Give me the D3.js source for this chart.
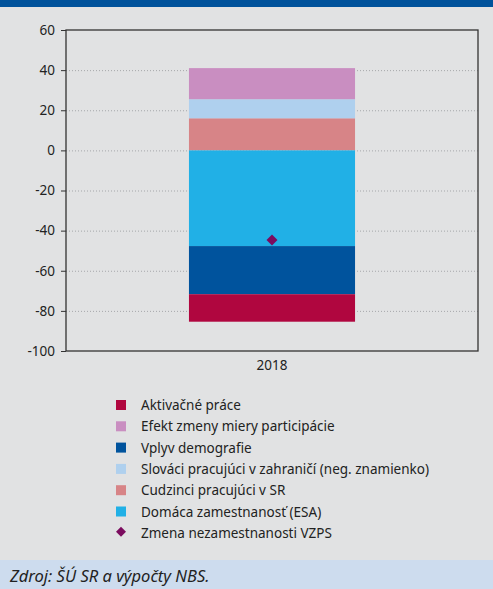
<!DOCTYPE html>
<html>
<head>
<meta charset="utf-8">
<script src="https://cdn.jsdelivr.net/npm/d3@7"></script>
<style>
body { margin: 0; background: #e1e2e3; }
svg { display: block; font-family: "Noto Sans", sans-serif; }
</style>
</head>
<body>
<svg></svg>
<script>
var width = 493;
var height = 589;

// data
var categories = ["2018"];
var seriesNames = [
  "Aktivačné práce",
  "Efekt zmeny miery participácie",
  "Vplyv demografie",
  "Slováci pracujúci v zahraničí (neg. znamienko)",
  "Cudzinci pracujúci v SR",
  "Domáca zamestnanosť (ESA)"
];
var seriesColors = ["#b0063f", "#c98ec1", "#00539d", "#afd0ee", "#d78487", "#21b0e6"];
var seriesValues = [-13.7, 15.5, -24.0, 9.5, 16.0, -47.7];
// stacking order from zero outwards
var stackOrder = [4, 3, 1, 5, 2, 0];
var markerName = "Zmena nezamestnanosti VZPS";
var markerValues = [-44.7];
var yTicks = [60, 40, 20, 0, -20, -40, -60, -80, -100];
var sourceText = "Zdroj: ŠÚ SR a výpočty NBS.";

var svg = d3.select("svg").attr("width", width).attr("height", height);

// top band and footer
svg.append("rect").attr("x", 0).attr("y", 0).attr("width", width).attr("height", 7).attr("fill", "#00529b");
svg.append("rect").attr("x", 0).attr("y", 560).attr("width", width).attr("height", 29).attr("fill", "#cddcee");
svg.append("text").attr("x", 10).attr("y", 582)
  .attr("font-size", 16.5).attr("font-style", "italic").attr("fill", "#222")
  .text(sourceText);

var pLeft = 66, pRight = 478, pTop = 30, pBottom = 351;

var x = d3.scaleBand().domain(categories).range([pLeft, pRight]).paddingInner(0).paddingOuter(0.3);
var y = d3.scaleLinear().domain([-100, 60]).range([pBottom, pTop]);

// grid
svg.append("g").selectAll("line").data(yTicks.filter(function(t) { return t > -100 && t < 60; }))
  .enter().append("line")
  .attr("x1", pLeft).attr("x2", pRight)
  .attr("y1", function(d) { return y(d) + 0.5; }).attr("y2", function(d) { return y(d) + 0.5; })
  .attr("stroke", "#a5a7aa").attr("stroke-width", 1).attr("stroke-dasharray", "1,2");

// stacked bars
var posBase = 0, negBase = 0;
var segs = [];
stackOrder.forEach(function(i) {
  var v = seriesValues[i];
  if (v >= 0) { segs.push({i: i, y0: posBase, y1: posBase + v}); posBase += v; }
  else { segs.push({i: i, y0: negBase + v, y1: negBase}); negBase += v; }
});

var bw = x.bandwidth() * 0.645;
var bx = x(categories[0]) + (x.bandwidth() - bw) / 2;

svg.append("g").selectAll("rect").data(segs).enter().append("rect")
  .attr("x", bx).attr("width", bw)
  .attr("y", function(d) { return y(d.y1); })
  .attr("height", function(d) { return y(d.y0) - y(d.y1); })
  .attr("fill", function(d) { return seriesColors[d.i]; });

// marker
svg.append("g").selectAll("path").data(markerValues).enter().append("path")
  .attr("d", d3.symbol().type(d3.symbolSquare).size(60))
  .attr("transform", function(d, i) {
    return "translate(" + (x(categories[i]) + x.bandwidth() / 2) + "," + y(d) + ") rotate(45)";
  })
  .attr("fill", "#7b0c5f");

// frame
svg.append("rect").attr("x", pLeft).attr("y", pTop).attr("width", pRight - pLeft).attr("height", pBottom - pTop)
  .attr("fill", "none").attr("stroke", "#333").attr("stroke-width", 1.3);

// y axis
var yAxis = svg.append("g").attr("transform", "translate(" + pLeft + ",0)")
  .call(d3.axisLeft(y).tickValues(yTicks).tickSize(5).tickPadding(6).tickFormat(function(d) { return String(d); }));
yAxis.select(".domain").remove();
yAxis.selectAll("line").attr("stroke", "#333");
yAxis.selectAll("text").attr("font-size", 13.5).attr("fill", "#222").attr("font-family", "Noto Sans");

// x axis
var xAxis = svg.append("g").attr("transform", "translate(0," + pBottom + ")")
  .call(d3.axisBottom(x).tickSize(0).tickPadding(9));
xAxis.select(".domain").remove();
xAxis.selectAll("text").attr("font-size", 13.5).attr("fill", "#222").attr("font-family", "Noto Sans");

// legend
var legend = svg.append("g");
var items = seriesNames.map(function(n, i) { return {name: n, color: seriesColors[i], type: "rect"}; });
items.push({name: markerName, color: "#7b0c5f", type: "diamond"});
var row = legend.selectAll("g").data(items).enter().append("g")
  .attr("transform", function(d, i) { return "translate(116," + (405 + i * 21.3) + ")"; });
row.filter(function(d) { return d.type === "rect"; }).append("rect")
  .attr("x", 0).attr("y", -5).attr("width", 10).attr("height", 10).attr("fill", function(d) { return d.color; });
row.filter(function(d) { return d.type === "diamond"; }).append("path")
  .attr("d", d3.symbol().type(d3.symbolSquare).size(50))
  .attr("transform", "translate(5,-1) rotate(45)").attr("fill", function(d) { return d.color; });
row.append("text").attr("x", 25).attr("y", 5)
  .attr("font-size", 13.5).attr("fill", "#222")
  .text(function(d) { return d.name; });
</script>
</body>
</html>
